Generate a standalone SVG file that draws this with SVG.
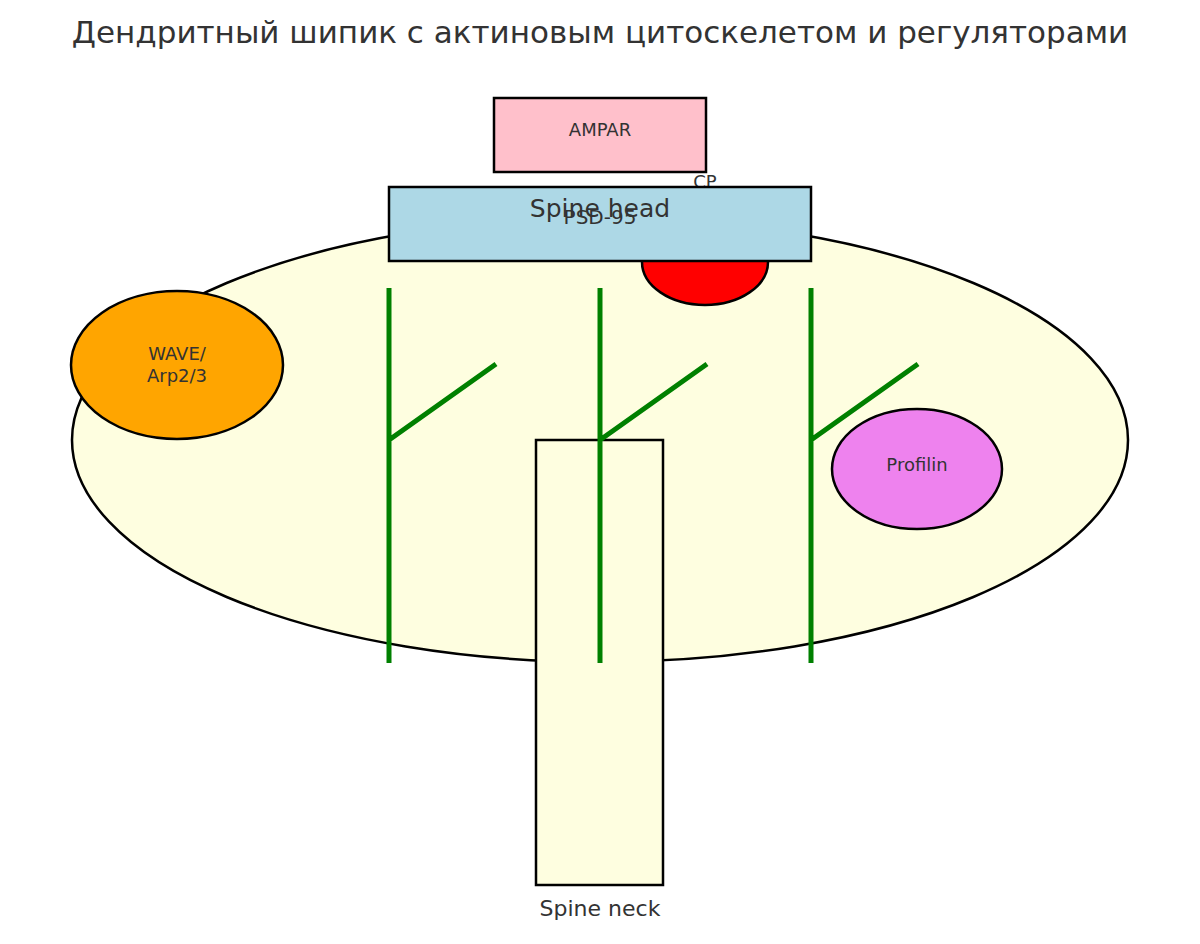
<svg xmlns="http://www.w3.org/2000/svg" width="1200" height="944" viewBox="0 0 1200 944">
<style>
text{font-family:"DejaVu Sans",sans-serif;fill:#333;text-anchor:middle}
.s{stroke:#000;stroke-width:2.5}
.a{stroke:green;stroke-width:5;fill:none}
</style>
<rect width="1200" height="944" fill="#fff"/>
<text x="600" y="43" font-size="31">Дендритный шипик с актиновым цитоскелетом и регуляторами</text>
<g id="head"><ellipse cx="600" cy="440" rx="528" ry="222" fill="#fefee0" class="s"/></g>
<g id="neck"><rect x="536" y="440" width="127" height="445" fill="#fefee0" class="s"/><text x="600" y="916" font-size="22">Spine neck</text></g>
<g id="cp"><ellipse cx="705" cy="262" rx="63" ry="43" fill="red" class="s"/><text x="705" y="188" font-size="18">CP</text></g>
<g id="ampar"><rect x="494" y="98" width="212" height="74" fill="pink" class="s"/><text x="600" y="136" font-size="18">AMPAR</text></g>
<g id="psd95"><rect x="389" y="187" width="422" height="74" fill="#add8e6" class="s"/><text x="600" y="224" font-size="20">PSD-95</text></g>
<text x="600" y="217" font-size="25">Spine head</text>
<g id="connectors">
<path class="a" d="M389 288V663M389 440L496 364M600 288V663M600 440L707 364M811 288V663M811 440L918 364"/>
</g>
<g id="wave"><ellipse cx="177" cy="365" rx="106" ry="74" fill="orange" class="s"/><text x="177" y="360" font-size="18">WAVE/</text><text x="177" y="382" font-size="18">Arp2/3</text></g>
<g id="profilin"><ellipse cx="917" cy="469" rx="85" ry="60" fill="violet" class="s"/><text x="917" y="471" font-size="18">Profilin</text></g>
</svg>
